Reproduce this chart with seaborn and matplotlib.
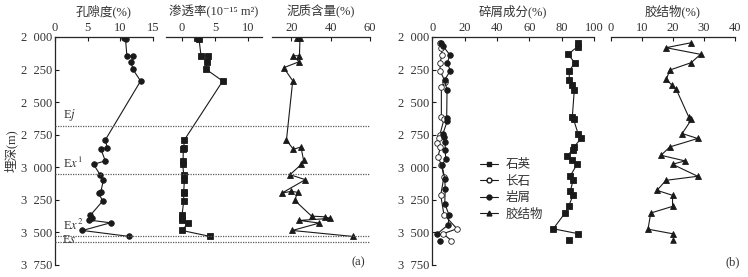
import matplotlib
matplotlib.use("Agg")
import matplotlib.pyplot as plt
import seaborn as sns
from matplotlib.lines import Line2D

# panel (a): core samples (depth in m)
depth_a = [2010, 2018, 2144, 2146, 2195, 2246, 2338, 2790, 2851, 2857, 2951, 2977,
           3057, 3100, 3192, 3200, 3259, 3369, 3387, 3405, 3426, 3485, 3531]
porosity = [10.5, 10.8, 11.0, 12.0, 11.7, 11.9, 13.1, 7.7, 8.0, 7.0, 7.7, 5.9,
            6.9, 7.4, 7.0, 6.7, 7.3, 5.4, 5.7, 5.2, 8.5, 4.2, 11.4]
permeability = [2.25, 2.6, 2.9, 3.95, 3.85, 3.6, 6.15, 0.4, 0.3, 0.25, 0.2, 0.15,
                0.3, 0.4, 0.3, 0.3, 0.3, 0.05, 0.05, 0.05, 1.0, 0.05, 4.3]

depth_mud = [2010, 2010, 2144, 2144, 2190, 2236, 2336, 2792, 2862, 2844, 2946, 2977,
             3057, 3095, 3197, 3185, 3192, 3254, 3375, 3380, 3392, 3408, 3428, 3485, 3531]
mud = [22.9, 24.4, 24.1, 20.9, 23.9, 16.1, 20.7, 17.5, 21.0, 24.9, 26.2, 25.1,
       19.3, 27.1, 15.3, 20.0, 23.2, 21.7, 30.3, 36.9, 39.9, 24.1, 34.2, 20.5, 51.4]

# panel (b): thin sections
depth_quartz = [2044, 2074, 2133, 2197, 2261, 2331, 2369, 2408, 2613, 2633, 2741, 2779,
                2844, 2864, 2913, 2946, 2977, 3069, 3100, 3185, 3215, 3300, 3351, 3472, 3510]
quartz = [89.9, 89.9, 83.9, 88.1, 84.7, 84.7, 86.2, 87.8, 86.6, 87.4, 90.1, 92.0,
          87.6, 86.8, 83.5, 86.4, 89.5, 85.2, 87.0, 85.4, 87.0, 84.3, 82.1, 74.8, 90.3]

depth_feld = [2044, 2087, 2138, 2197, 2259, 2344, 2380, 2613, 2633, 2754, 2779, 2810,
              2844, 2921, 2979, 3074, 3215, 3364, 3472, 3510, 3562]
feldspar = [4.8, 5.6, 6.0, 4.8, 4.8, 8.0, 5.6, 5.6, 7.2, 4.6, 3.9, 3.1,
            5.0, 3.5, 5.6, 7.2, 5.2, 7.2, 15.3, 6.6, 11.8]

depth_lith = [2048, 2069, 2138, 2197, 2259, 2331, 2408, 2625, 2644, 2741, 2767, 2805,
              2869, 2933, 2985, 3087, 3164, 3279, 3364, 3441, 3510]
lithic = [5.2, 6.6, 10.9, 9.3, 11.1, 7.6, 9.1, 8.9, 9.3, 6.6, 7.2, 8.0,
          8.0, 8.3, 6.0, 7.7, 8.0, 7.7, 10.3, 9.9, 3.1]

depth_cement = [2044, 2082, 2133, 2197, 2254, 2326, 2369, 2402, 2613, 2633, 2741, 2779,
                2844, 2908, 2951, 2977, 3069, 3100, 3177, 3215, 3300, 3351, 3475, 3510]
cement = [25.9, 17.8, 28.9, 25.9, 19.0, 17.9, 19.7, 21.1, 25.1, 26.0, 23.0, 28.0,
          19.0, 16.2, 23.9, 19.9, 28.0, 17.8, 14.9, 19.9, 19.9, 12.9, 12.0, 19.9]

# deepest samples, drawn unconnected
quartz_last = ([84.3], [3556])
lithic_last = ([4.6], [3562])
cement_last = ([19.9], [3556])

strata_depths = [2680, 3050, 3525, 3570]
strata_labels = ["E$j$", "E$x^1$", "E$x^2$", "E$s$"]

depth_ticks = [2000, 2250, 2500, 2750, 3000, 3250, 3500, 3750]
depth_ticklabels = ["2\u2002000", "2\u2002250", "2\u2002500", "2\u2002750",
                    "3\u2002000", "3\u2002250", "3\u2002500", "3\u2002750"]

sns.set_theme(style="ticks")
plt.rcParams["font.family"] = ["Liberation Serif", "Noto Sans CJK SC", "DejaVu Serif"]
plt.rcParams["mathtext.fontset"] = "stix"
plt.rcParams["axes.unicode_minus"] = False

W, H = 748, 277
fig = plt.figure(figsize=(W / 100, H / 100), dpi=100)
top_px, bot_px = 37, 265
txt = "0.2"


def add_ax(x0, x1):
    return fig.add_axes([x0 / W, 1 - bot_px / H, (x1 - x0) / W, (bot_px - top_px) / H])


ax1 = add_ax(55, 153)
ax2 = add_ax(165.7, 261.7)
ax3 = add_ax(271.7, 370)
ax4 = add_ax(432.3, 594)
ax5 = add_ax(610.7, 735)

line_kw = dict(sort=False, estimator=None, color="k", linewidth=0.8,
               markersize=4, markeredgecolor="k", markeredgewidth=0.6)

sns.lineplot(x=porosity, y=depth_a, marker="o", ax=ax1, **line_kw)
sns.lineplot(x=permeability, y=depth_a, marker="s", ax=ax2, **line_kw)
sns.lineplot(x=mud, y=depth_mud, marker="^", ax=ax3, **line_kw)

sns.lineplot(x=quartz, y=depth_quartz, marker="s", ax=ax4, **line_kw)
sns.lineplot(x=feldspar, y=depth_feld, marker="o", markerfacecolor="white", ax=ax4, **line_kw)
sns.lineplot(x=lithic, y=depth_lith, marker="o", ax=ax4, **line_kw)
sns.lineplot(x=cement, y=depth_cement, marker="^", ax=ax5, **line_kw)

pt_kw = dict(color="k", edgecolor="k", s=16, linewidth=0.6)
sns.scatterplot(x=quartz_last[0], y=quartz_last[1], marker="s", ax=ax4, **pt_kw)
sns.scatterplot(x=lithic_last[0], y=lithic_last[1], marker="o", ax=ax4, **pt_kw)
sns.scatterplot(x=cement_last[0], y=cement_last[1], marker="^", ax=ax5, **pt_kw)

settings = [
    (ax1, (0, 15), [0, 5, 10, 15], "孔隙度(%)", True),
    (ax2, (-2.4, 12), [0, 5, 10], "渗透率(10⁻¹⁵ m²)", False),
    (ax3, (10, 60), [20, 40, 60], "泥质含量(%)", False),
    (ax4, (0, 100), [0, 20, 40, 60, 80, 100], "碎屑成分(%)", True),
    (ax5, (0, 40), [0, 10, 20, 30, 40], "胶结物(%)", False),
]
for ax, xlim, xt, title, has_y in settings:
    ax.set_xlim(*xlim)
    ax.set_ylim(3750, 2000)
    ax.set_xticks(xt)
    ax.xaxis.tick_top()
    ax.set_xlabel("")
    ax.set_ylabel("")
    ax.set_title(title, fontsize=9, pad=5, color=txt)
    ax.tick_params(axis="both", direction="in", length=3, width=0.8,
                   labelsize=9, colors="k", labelcolor=txt, pad=2)
    ax.spines["bottom"].set_visible(False)
    ax.spines["right"].set_visible(False)
    for s in ["top", "left"]:
        ax.spines[s].set_linewidth(0.9)
    if has_y:
        ax.set_yticks(depth_ticks)
        ax.set_yticklabels(depth_ticklabels)
    else:
        ax.spines["left"].set_visible(False)
        ax.set_yticks([])

ax1.set_ylabel("埋深(m)", fontsize=9, color=txt, labelpad=2)

# strata boundaries across panel (a)
ov = add_ax(55, 370)
ov.set_ylim(3750, 2000)
ov.set_xlim(0, 1)
ov.axis("off")
ov.patch.set_alpha(0)
for d in strata_depths:
    ov.axhline(d, color="0.35", linewidth=0.9, linestyle=(0, (1, 1)))
for d, lab in zip(strata_depths, strata_labels):
    if lab == "E$s$":
        ov.text(0.022, d - 10, lab, fontsize=9, color=txt, va="center", ha="left")
    else:
        ov.text(0.025, d - 20, lab, fontsize=9, color=txt, va="bottom", ha="left")

handles = [
    Line2D([], [], color="k", lw=0.8, marker="s", ms=3.5, mec="k"),
    Line2D([], [], color="k", lw=0.8, marker="o", ms=3.5, mec="k", mfc="white"),
    Line2D([], [], color="k", lw=0.8, marker="o", ms=3.5, mec="k"),
    Line2D([], [], color="k", lw=0.8, marker="^", ms=3.5, mec="k"),
]
fig.legend(handles, ["石英", "长石", "岩屑", "胶结物"], loc="upper left",
           bbox_to_anchor=(474 / W, 1 - 153 / H), frameon=False, fontsize=9,
           handlelength=1.4, handletextpad=0.6, labelspacing=0.35, borderpad=0,
           labelcolor=txt)

fig.text(365 / W, 1 - 262 / H, "(a)", ha="right", va="center", fontsize=9, color=txt)
fig.text(740 / W, 1 - 262 / H, "(b)", ha="right", va="center", fontsize=9, color=txt)

fig.savefig("out.png", dpi=100)
